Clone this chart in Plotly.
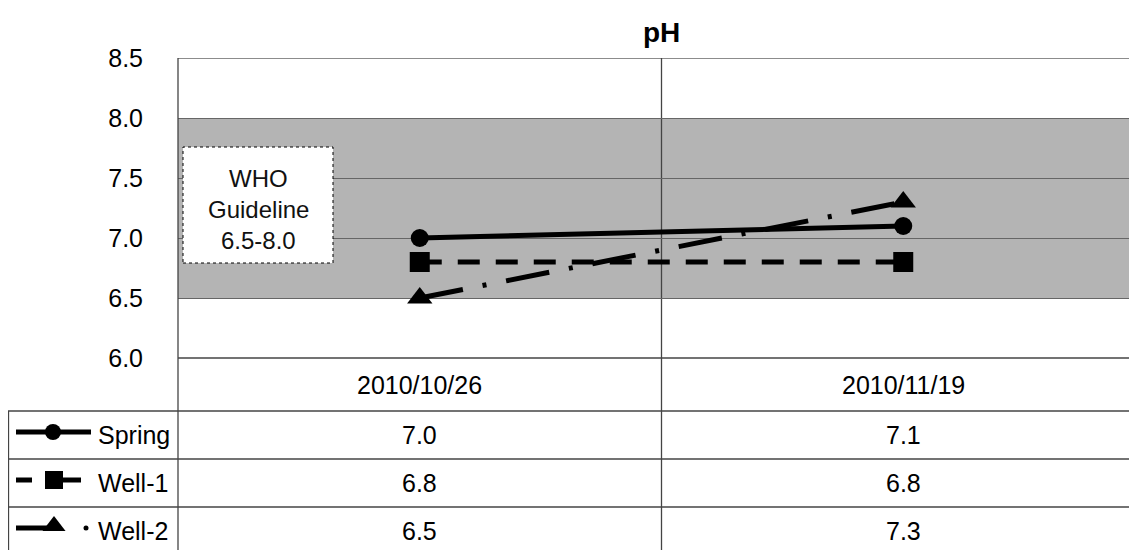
import plotly.graph_objects as go

# ---- data ----
categories = ["2010/10/26", "2010/11/19"]
series_names = ["Spring", "Well-1", "Well-2"]
spring = [7.0, 7.1]
well1 = [6.8, 6.8]
well2 = [6.5, 7.3]
y_ticks = [6.0, 6.5, 7.0, 7.5, 8.0, 8.5]
guideline = [6.5, 8.0]

W, H = 1137, 550
OFF = 8  # page body margin
FONT = "Liberation Sans, Arial, sans-serif"

def px(x):
    return (x - OFF) / W

def py(y):
    return 1 - (y - OFF) / H

fig = go.Figure()

styles = [
    dict(dash="solid", symbol="circle", size=18),
    dict(dash="22px,16px", symbol="square", size=20),
    dict(dash="44px,20px,4px,20px", symbol="triangle-up", size=22),
]
values = [spring, well1, well2]

for name, vals, st in zip(series_names, values, styles):
    fig.add_trace(go.Scatter(
        x=categories, y=vals, name=name, mode="lines+markers",
        line=dict(color="black", width=5, dash=st["dash"]),
        marker=dict(symbol=st["symbol"], size=st["size"], color="black"),
        xaxis="x", yaxis="y", cliponaxis=False,
    ))

# ---- legend keys in the table's first column (pixel overlay axis) ----
row_y = [435, 483, 531]
key = dict(xaxis="x2", yaxis="y2", showlegend=False, hoverinfo="skip")
fig.add_trace(go.Scatter(x=[16, 91], y=[row_y[0] - 3] * 2, mode="lines",
                         line=dict(color="black", width=5), **key))
fig.add_trace(go.Scatter(x=[53], y=[row_y[0] - 3], mode="markers",
                         marker=dict(symbol="circle", size=16, color="black"), **key))
fig.add_trace(go.Scatter(x=[16, 32, None, 63, 81], y=[row_y[1] - 3] * 2 + [None] + [row_y[1] - 3] * 2,
                         mode="lines", line=dict(color="black", width=5), **key))
fig.add_trace(go.Scatter(x=[54], y=[row_y[1] - 3], mode="markers",
                         marker=dict(symbol="square", size=18, color="black"), **key))
fig.add_trace(go.Scatter(x=[16, 50], y=[row_y[2] - 3] * 2, mode="lines",
                         line=dict(color="black", width=5), **key))
fig.add_trace(go.Scatter(x=[54], y=[row_y[2] - 5], mode="markers",
                         marker=dict(symbol="triangle-up", size=20, color="black"), **key))
fig.add_trace(go.Scatter(x=[86], y=[row_y[2] - 3], mode="markers",
                         marker=dict(symbol="circle", size=5, color="black"), **key))

LC = "#444"
shapes = []
# guideline band
shapes.append(dict(type="rect", xref="x domain", yref="y", x0=0, x1=1,
                   y0=guideline[0], y1=guideline[1], fillcolor="#b4b4b4",
                   line=dict(width=0), layer="below"))
# top gridline
shapes.append(dict(type="line", xref="x domain", yref="y", x0=0, x1=1,
                   y0=y_ticks[-1], y1=y_ticks[-1], line=dict(color="#666", width=1.3), layer="below"))
# middle vertical separator (between categories), through the table
shapes.append(dict(type="line", xref="x", yref="paper", x0=0.5, x1=0.5,
                   y0=0, y1=py(58), line=dict(color=LC, width=1.3), layer="between"))
# left plot border through table
shapes.append(dict(type="line", xref="paper", yref="paper", x0=px(178), x1=px(178),
                   y0=0, y1=py(58), line=dict(color=LC, width=1.3), layer="above"))
# table left border
shapes.append(dict(type="line", xref="paper", yref="paper", x0=px(8.5), x1=px(8.5),
                   y0=0, y1=py(411), line=dict(color=LC, width=1.3), layer="above"))
# table horizontal lines
shapes.append(dict(type="line", xref="paper", yref="paper", x0=px(178), x1=1,
                   y0=py(358), y1=py(358), line=dict(color=LC, width=1.3), layer="above"))
for yy in [411, 459, 507]:
    shapes.append(dict(type="line", xref="paper", yref="paper", x0=px(8), x1=1,
                       y0=py(yy), y1=py(yy), line=dict(color=LC, width=1.3), layer="above"))
# WHO box
shapes.append(dict(type="rect", xref="paper", yref="paper", x0=px(183), x1=px(333),
                   y0=py(263), y1=py(147), fillcolor="white",
                   line=dict(color="black", width=1, dash="dot"), layer="above"))

annotations = []
annotations.append(dict(text="<b>pH</b>", xref="paper", yref="paper", x=px(661), y=py(33),
                        xanchor="center", yanchor="middle", showarrow=False,
                        font=dict(family=FONT, size=28, color="black")))
for t, yy in zip(["WHO", "Guideline", f"{guideline[0]}-{guideline[1]}"], [178, 210, 241]):
    annotations.append(dict(text=t, xref="paper", yref="paper", x=px(258), y=py(yy),
                            xanchor="center", yanchor="middle", showarrow=False,
                            font=dict(family=FONT, size=24, color="#111")))
# header row
for c in categories:
    annotations.append(dict(text=c, xref="x", yref="paper", x=c, y=py(385),
                            xanchor="center", yanchor="middle", showarrow=False,
                            font=dict(family=FONT, size=25, color="black")))
# value rows
for name, vals, yy in zip(series_names, values, row_y):
    annotations.append(dict(text=name, xref="paper", yref="paper", x=px(96), y=py(yy),
                            xanchor="left", yanchor="middle", showarrow=False,
                            font=dict(family=FONT, size=25, color="black")))
    for c, v in zip(categories, vals):
        annotations.append(dict(text=f"{v:.1f}", xref="x", yref="paper", x=c, y=py(yy),
                                xanchor="center", yanchor="middle", showarrow=False,
                                font=dict(family=FONT, size=25, color="black")))

fig.update_layout(
    width=W, height=H,
    margin=dict(l=0, r=0, t=0, b=0, pad=0, autoexpand=False),
    paper_bgcolor="white", plot_bgcolor="rgba(0,0,0,0)",
    showlegend=False,
    xaxis=dict(type="category", categoryorder="array", categoryarray=categories,
               domain=[px(178), 1], range=[-0.5, 1.5],
               showticklabels=False, showgrid=False, zeroline=False, showline=False),
    yaxis=dict(domain=[py(358), py(58)], range=[6.0, 8.5],
               tickvals=y_ticks, ticktext=[f"{v:.1f}" for v in y_ticks],
               showgrid=True, gridcolor="#666", gridwidth=1.3,
               zeroline=False, showline=False, ticks="",
               ticklabelstandoff=34,
               tickfont=dict(family=FONT, size=25, color="black")),
    xaxis2=dict(domain=[0, 1], range=[OFF, W + OFF], visible=False, fixedrange=True, anchor="y2"),
    yaxis2=dict(domain=[0, 1], range=[H + OFF, OFF], visible=False, fixedrange=True, anchor="x2"),
    shapes=shapes,
    annotations=annotations,
)

fig.write_html("out.html")
